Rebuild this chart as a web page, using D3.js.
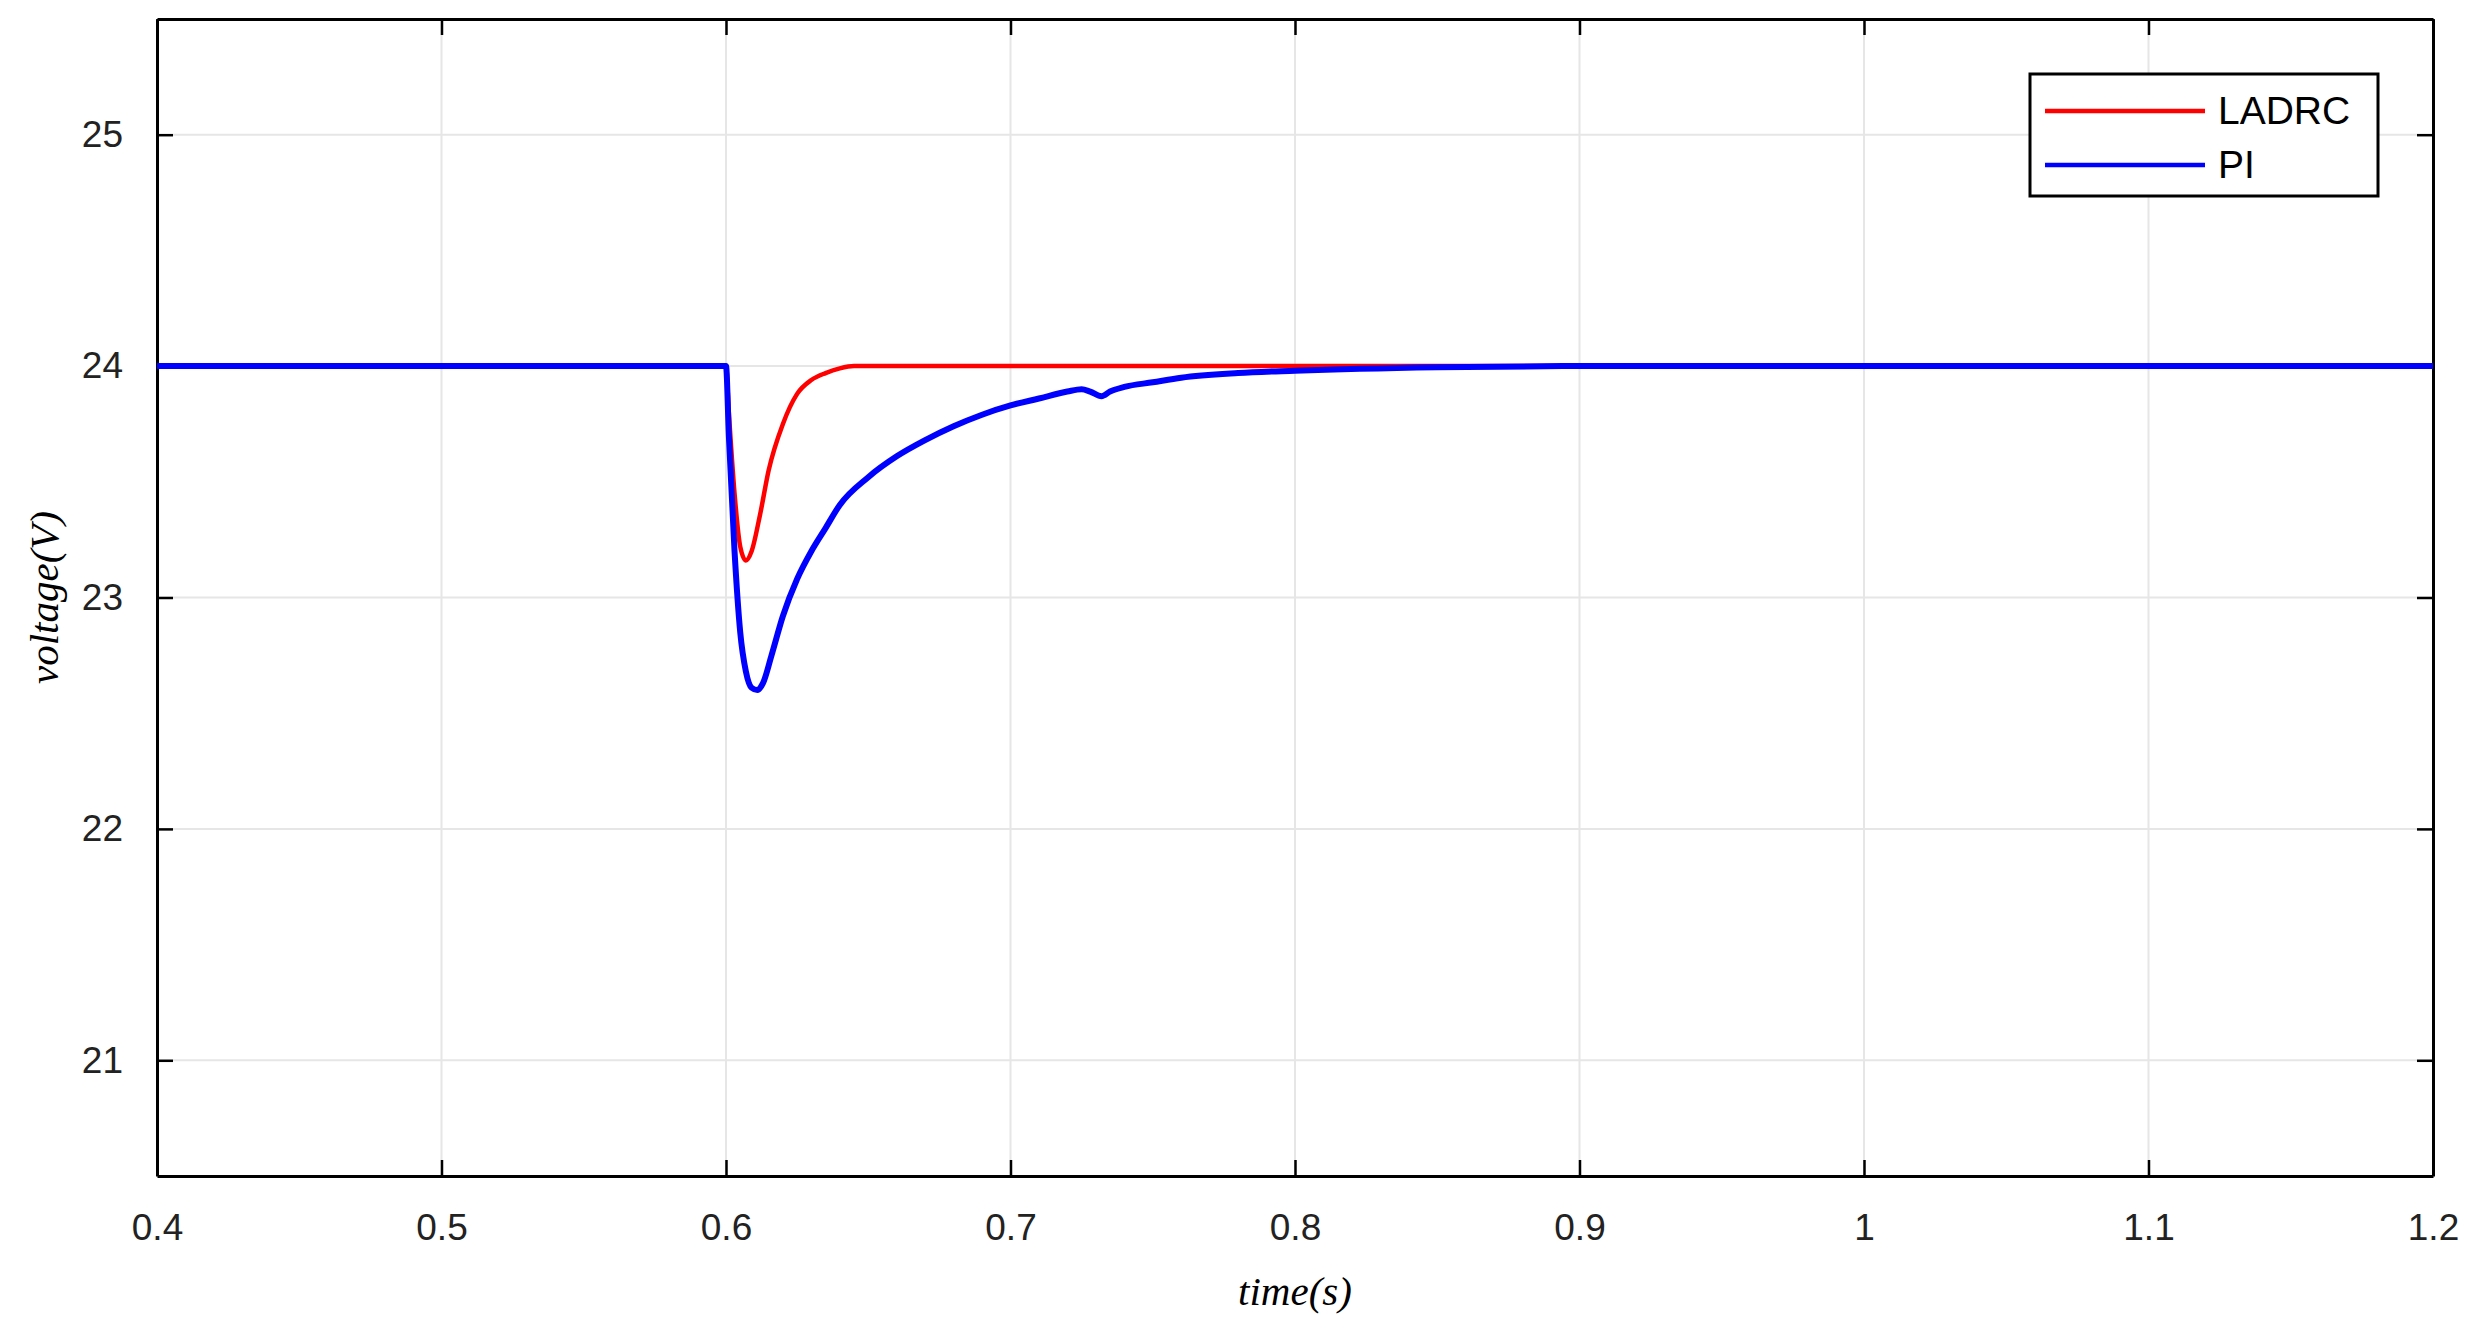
<!DOCTYPE html><html><head><meta charset="utf-8"><script src="https://d3js.org/d3.v7.min.js"></script>
<style>body{margin:0;background:#fff}</style></head><body><svg id="c" width="2479" height="1332"></svg>
<script>
const xTicks=[0.4,0.5,0.6,0.7,0.8,0.9,1,1.1,1.2];
const yTicks=[21,22,23,24,25];
const ladrcT=[0.4,0.6,0.601,0.603,0.605,0.607,0.609,0.612,0.615,0.62,0.625,0.63,0.635,0.64,0.645,0.65,0.66,0.7,0.9,1.2];
const ladrcV=[24,24,23.8,23.45,23.22,23.16,23.2,23.36,23.55,23.75,23.88,23.94,23.97,23.99,24,24,24,24,24,24];
const piT=[0.4,0.6,0.601,0.603,0.605,0.607,0.609,0.611,0.613,0.616,0.62,0.625,0.63,0.635,0.64,0.65,0.66,0.67,0.68,0.69,0.7,0.71,0.72,0.725,0.728,0.732,0.735,0.74,0.75,0.76,0.78,0.8,0.85,0.9,1.2];
const piV=[24,24,23.7,23.2,22.85,22.68,22.61,22.6,22.63,22.75,22.92,23.08,23.2,23.3,23.4,23.52,23.61,23.68,23.74,23.79,23.83,23.86,23.89,23.9,23.89,23.87,23.89,23.91,23.93,23.95,23.97,23.98,23.995,24,24];
const svg=d3.select('#c');
const L=157,R=2433,T=19,B=1176;
const x=d3.scaleLinear().domain([0.4,1.2]).range([L,R]);
const y=d3.scaleLinear().domain([20.5,25.5]).range([B,T]);
const g=svg.append('g');
xTicks.forEach(t=>g.append('line').attr('x1',x(t)).attr('x2',x(t)).attr('y1',T).attr('y2',B).attr('stroke','#e6e6e6').attr('stroke-width',2));
yTicks.forEach(t=>g.append('line').attr('y1',y(t)).attr('y2',y(t)).attr('x1',L).attr('x2',R).attr('stroke','#e6e6e6').attr('stroke-width',2));
const tk=16;
const fmt=d=>String(d);
svg.append('g').attr('transform',`translate(0,${B})`).call(d3.axisBottom(x).tickValues(xTicks).tickFormat(fmt).tickSizeInner(-tk).tickSizeOuter(0).tickPadding(38));
svg.append('g').attr('transform',`translate(0,${T})`).call(d3.axisTop(x).tickValues(xTicks).tickFormat('').tickSizeInner(-tk).tickSizeOuter(0));
svg.append('g').attr('transform',`translate(${L},0)`).call(d3.axisLeft(y).tickValues(yTicks).tickFormat(fmt).tickSizeInner(-tk).tickSizeOuter(0).tickPadding(34));
svg.append('g').attr('transform',`translate(${R},0)`).call(d3.axisRight(y).tickValues(yTicks).tickFormat('').tickSizeInner(-tk).tickSizeOuter(0));
svg.selectAll('.domain').attr('stroke','#000').attr('stroke-width',3);
svg.selectAll('.tick line').attr('stroke','#000').attr('stroke-width',2.5);
svg.selectAll('.tick text').attr('font-family','Liberation Sans, Arial').attr('font-size',37).attr('fill','#222');
const line=(ts,vs)=>d3.line().x((d,i)=>x(ts[i])).y((d,i)=>y(vs[i])).curve(d3.curveMonotoneX)(vs);
svg.append('path').attr('d',line(ladrcT,ladrcV)).attr('fill','none').attr('stroke','#ff0000').attr('stroke-width',4.5);
svg.append('path').attr('d',line(piT,piV)).attr('fill','none').attr('stroke','#0000ff').attr('stroke-width',6);
svg.append('text').attr('x',(L+R)/2).attr('y',1305).attr('text-anchor','middle').attr('font-family','Liberation Serif, Times New Roman').attr('font-style','italic').attr('font-size',41).text('time(s)');
svg.append('text').attr('transform',`translate(58,${(T+B)/2}) rotate(-90)`).attr('text-anchor','middle').attr('font-family','Liberation Serif, Times New Roman').attr('font-style','italic').attr('font-size',41).text('voltage(V)');
const lg=svg.append('g');
lg.append('rect').attr('x',2030).attr('y',74).attr('width',348).attr('height',122).attr('fill','#fff').attr('stroke','#000').attr('stroke-width',3);
[['LADRC','#ff0000',111],['PI','#0000ff',165]].forEach(([n,c,yy])=>{
 lg.append('line').attr('x1',2045).attr('x2',2205).attr('y1',yy).attr('y2',yy).attr('stroke',c).attr('stroke-width',4.5);
 lg.append('text').attr('x',2218).attr('y',yy+13).attr('font-family','Liberation Sans, Arial').attr('font-size',39).text(n);
});
</script></body></html>
